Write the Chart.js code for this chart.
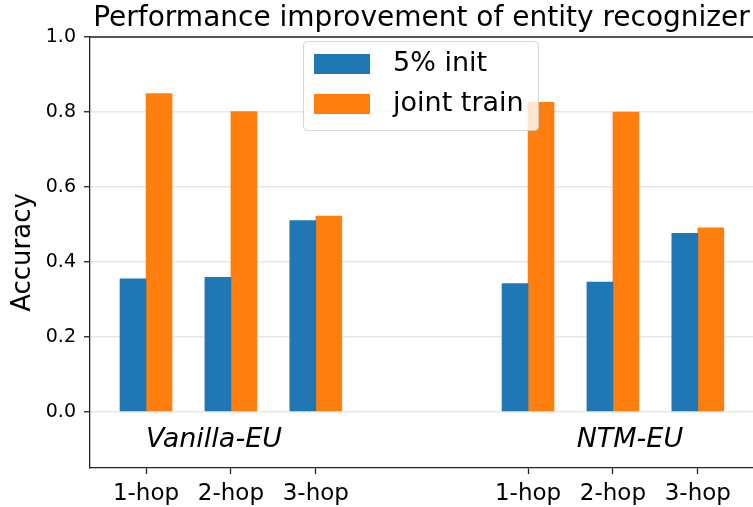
<!DOCTYPE html>
<html>
<head>
<meta charset="utf-8">
<script src="https://cdn.jsdelivr.net/npm/chart.js@4"></script>
<style>
  html, body { margin: 0; padding: 0; background: #fff; overflow: hidden; }
  canvas { display: block; }
</style>
</head>
<body>
<canvas id="accChart" width="753" height="507"></canvas>
<script>
const hopLabels = ['1-hop', '2-hop', '3-hop', '1-hop', '2-hop', '3-hop'];
const hopPos = [0, 1, 2, 4.5, 5.5, 6.5];
const initAcc = [0.355, 0.359, 0.510, 0.342, 0.346, 0.476];
const jointAcc = [0.849, 0.801, 0.522, 0.826, 0.800, 0.491];
const yTicks = [0.0, 0.2, 0.4, 0.6, 0.8, 1.0];
const groupNames = ['Vanilla-EU', 'NTM-EU'];
const groupPos = [0.8, 5.7];
const seriesNames = ['5% init', 'joint train'];
const colors = ['#1f77b4', '#ff7f0e'];

const FONT = '"DejaVu Sans", sans-serif';

// title, group names, top spine and the boxed legend
const extras = {
    id: 'extras',
    afterDraw(chart) {
        const c = chart.ctx;
        const a = chart.chartArea;
        const x = chart.scales.x;
        const y = chart.scales.y;
        c.save();

        c.strokeStyle = '#222';
        c.lineWidth = 1.3;
        c.beginPath();
        c.moveTo(a.left, a.top);
        c.lineTo(a.right, a.top);
        c.stroke();

        c.fillStyle = '#000';
        c.font = '28px ' + FONT;
        c.textAlign = 'center';
        c.textBaseline = 'alphabetic';
        c.fillText('Performance improvement of entity recognizer', (a.left + a.right) / 2, 26);

        c.font = 'italic 27px ' + FONT;
        c.textBaseline = 'middle';
        groupNames.forEach((g, i) => {
            c.fillText(g, x.getPixelForValue(groupPos[i]), y.getPixelForValue(-0.075));
        });

        // legend box
        const bx = 303, by = 41, bw = 235, bh = 89;
        c.fillStyle = 'rgba(255,255,255,0.8)';
        c.strokeStyle = 'rgba(204,204,204,0.8)';
        c.lineWidth = 1;
        c.beginPath();
        c.roundRect(bx + 0.5, by + 0.5, bw, bh, 4);
        c.fill();
        c.stroke();
        c.font = '27px ' + FONT;
        c.textAlign = 'left';
        c.textBaseline = 'middle';
        seriesNames.forEach((s, i) => {
            const cy = 64 + i * 40;
            c.fillStyle = colors[i];
            c.fillRect(314, cy - 10, 56, 20);
            c.fillStyle = '#000';
            c.fillText(s, 393, cy);
        });
        c.restore();
    }
};

const ctx = document.getElementById('accChart').getContext('2d');
new Chart(ctx, {
    type: 'bar',
    data: {
        datasets: [{
            label: seriesNames[0],
            data: hopPos.map((p, i) => ({ x: p, y: initAcc[i] })),
            backgroundColor: colors[0]
        },
        {
            label: seriesNames[1],
            data: hopPos.map((p, i) => ({ x: p, y: jointAcc[i] })),
            backgroundColor: colors[1]
        }]
    },
    options: {
        responsive: false,
        animation: false,
        devicePixelRatio: 1,
        barThickness: 26,
        layout: { padding: { top: 37, right: 0, left: 0, bottom: 0 } },
        plugins: {
            legend: { display: false },
            tooltip: { enabled: false }
        },
        scales: {
            x: {
                type: 'linear',
                min: -0.66,
                max: 7.15,
                offset: false,
                afterBuildTicks: s => { s.ticks = hopPos.map(v => ({ value: v })); },
                afterFit: s => { s.height = 39; },
                ticks: {
                    autoSkip: false,
                    maxRotation: 0,
                    padding: 6,
                    color: '#000',
                    font: { family: FONT, size: 23 },
                    callback: (v, i) => hopLabels[i]
                },
                grid: {
                    offset: false,
                    drawOnChartArea: false,
                    tickLength: 6,
                    tickColor: '#222',
                    tickWidth: 1.3
                },
                border: { color: '#222', width: 1.3 }
            },
            y: {
                min: -0.15,
                max: 1.0,
                z: 1,
                afterBuildTicks: s => { s.ticks = yTicks.map(v => ({ value: v })); },
                afterFit: s => { s.width = 90; },
                ticks: {
                    padding: 8,
                    color: '#000',
                    font: { family: FONT, size: 19 },
                    callback: v => v.toFixed(1)
                },
                grid: {
                    color: 'rgba(176,176,176,0.3)',
                    lineWidth: 1.5,
                    tickLength: 6,
                    tickColor: '#222',
                    tickWidth: 1.3
                },
                border: { color: '#222', width: 1.3 },
                title: {
                    display: true,
                    text: 'Accuracy',
                    color: '#000',
                    font: { family: FONT, size: 26 },
                    padding: { top: 8, bottom: 4 }
                }
            }
        }
    },
    plugins: [extras]
});
</script>
</body>
</html>
